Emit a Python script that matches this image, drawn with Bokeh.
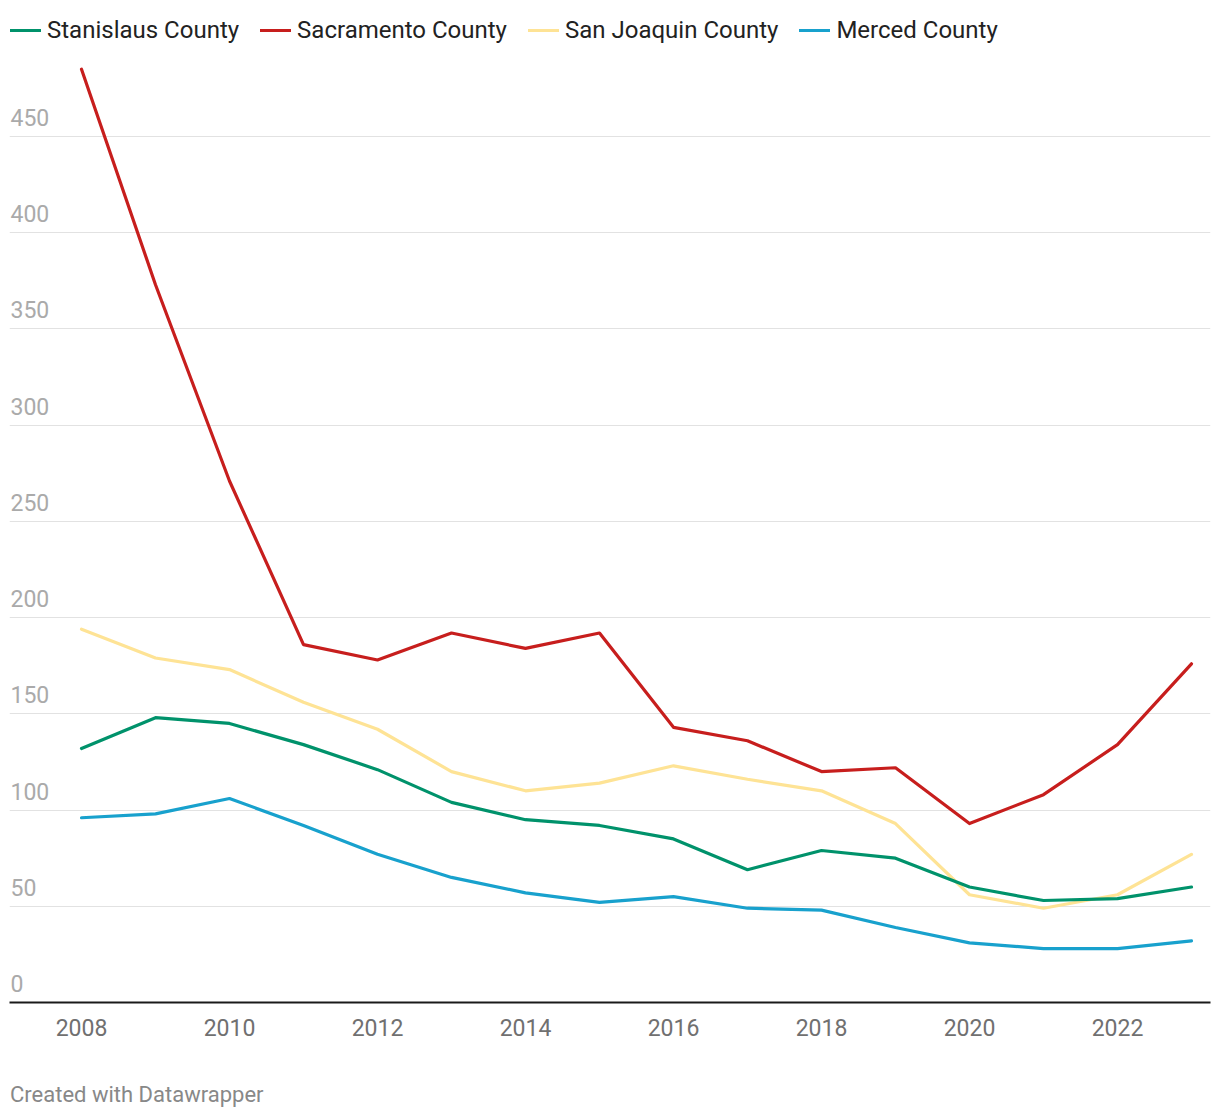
from bokeh.plotting import figure
from bokeh.layouts import column
from bokeh.models import (Range1d, FixedTicker, Legend, LegendItem, Div, ColumnDataSource)
from bokeh.core.properties import value
from bokeh.embed import file_html
from bokeh.resources import INLINE

years = list(range(2008, 2024))
stanislaus = [132, 148, 145, 134, 121, 104, 95, 92, 85, 69, 79, 75, 60, 53, 54, 60]
sacramento = [485, 373, 271, 186, 178, 192, 184, 192, 143, 136, 120, 122, 93, 108, 134, 176]
san_joaquin = [194, 179, 173, 156, 142, 120, 110, 114, 123, 116, 110, 93, 56, 49, 56, 77]
merced = [96, 98, 106, 92, 77, 65, 57, 52, 55, 49, 48, 39, 31, 28, 28, 32]

series_names = ["Stanislaus County", "Sacramento County", "San Joaquin County", "Merced County"]
series_colors = ["#00926b", "#c71e1d", "#fee395", "#18a1cd"]

y_ticks = [0, 50, 100, 150, 200, 250, 300, 350, 400, 450]
x_ticks = [2008, 2010, 2012, 2014, 2016, 2018, 2020, 2022]

FONT = "Roboto"

p = figure(width=1212, height=1052, output_backend="svg", toolbar_location=None,
           x_range=Range1d(2007.027, 2023.257), y_range=Range1d(0, 515.5),
           min_border_left=9, min_border_right=2, min_border_top=10, min_border_bottom=50)
p.outline_line_color = None
p.background_fill_color = "white"
p.border_fill_color = "white"

p.yaxis.visible = False
p.xgrid.grid_line_color = None
p.ygrid.ticker = FixedTicker(ticks=y_ticks[1:])
p.ygrid.grid_line_color = "#e2e2e2"
p.ygrid.grid_line_width = 1

xa = p.xaxis[0]
xa.ticker = FixedTicker(ticks=x_ticks)
xa.axis_line_color = "#1a1a1a"
xa.axis_line_width = 2
xa.major_tick_line_color = None
xa.minor_tick_line_color = None
xa.major_label_text_font = FONT
xa.major_label_text_font_size = "23px"
xa.major_label_text_color = "#707070"
xa.major_label_standoff = 10

# y tick labels above gridlines
ysrc = ColumnDataSource(dict(x=[2007.027] * len(y_ticks), y=y_ticks, t=[str(v) for v in y_ticks]))
p.text(x="x", y="y", text="t", source=ysrc, text_font=value(FONT), text_font_size="23px",
       text_color="#aaaaaa", text_align="left", text_baseline="alphabetic",
       x_offset=1, y_offset=-19)

data = dict(zip(series_names, [stanislaus, sacramento, san_joaquin, merced]))
renderers = {}
for name in ["San Joaquin County", "Merced County", "Stanislaus County", "Sacramento County"]:
    c = series_colors[series_names.index(name)]
    renderers[name] = p.line(years, data[name], line_color=c, line_width=3.2,
                             line_join="round", line_cap="round")

legend = Legend(items=[LegendItem(label=n, renderers=[renderers[n]]) for n in series_names],
                orientation="horizontal", location=(1, 958), padding=0, margin=0,
                spacing=21, glyph_width=31, glyph_height=28, label_height=28,
                label_standoff=6, border_line_color=None, background_fill_alpha=0,
                label_text_font=FONT, label_text_font_size="24px", label_text_color="#222222")
p.add_layout(legend, "center")

footer = Div(text="Created with Datawrapper", width=400, height=30, margin=(30, 0, 0, 10),
             styles={"font-family": "Roboto", "font-size": "22px", "color": "#888888",
                     "line-height": "26px", "white-space": "nowrap"})

layout = column(p, footer, spacing=0)
open("out.html", "w").write(file_html(layout, INLINE))
